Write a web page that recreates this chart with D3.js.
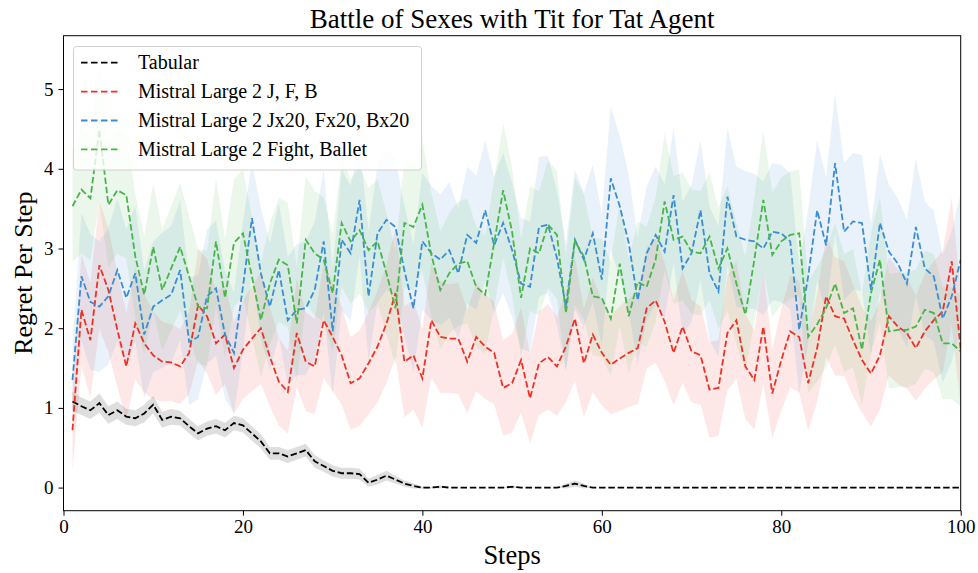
<!DOCTYPE html>
<html><head><meta charset="utf-8">
<script src="https://cdn.jsdelivr.net/npm/d3@7"></script>
<style>body{margin:0;background:#fff}svg text{font-family:"Liberation Serif","Times New Roman",serif}</style>
</head><body><svg id="c" width="978" height="573"></svg>
<script>
const steps = d3.range(1, 101);
const xTicks = [0, 20, 40, 60, 80, 100];
const yTicks = [0, 1, 2, 3, 4, 5];
const seriesNames = ["Tabular", "Mistral Large 2 J, F, B", "Mistral Large 2 Jx20, Fx20, Bx20", "Mistral Large 2 Fight, Ballet"];

const tabular = [1.08,1.02,0.97,1.06,0.91,0.97,0.89,0.87,0.93,1.04,
0.85,0.89,0.87,0.77,0.68,0.74,0.77,0.72,0.81,0.78,
0.68,0.58,0.43,0.43,0.39,0.43,0.47,0.33,0.27,0.21,
0.18,0.18,0.17,0.06,0.10,0.15,0.10,0.05,0.02,0.0,
0.0,0.01,0,0,0,0,0,0,0,0.01,
0,0,0,0,0,0.02,0.05,0.02,0,0,
0,0,0,0,0,0,0,0,0,0,
0,0,0,0,0,0,0,0,0,0,
0,0,0,0,0,0,0,0,0,0,
0,0,0,0,0,0,0,0,0,0];
const tabularErr = [0.12,0.11,0.11,0.12,0.11,0.11,0.10,0.10,0.11,0.11,
0.10,0.10,0.09,0.09,0.09,0.09,0.09,0.09,0.09,0.09,
0.09,0.09,0.08,0.08,0.08,0.08,0.08,0.08,0.07,0.07,
0.07,0.07,0.07,0.05,0.06,0.06,0.05,0.04,0.03,0.01,
0.01,0.02,0,0,0,0,0,0,0,0.02,
0,0,0,0,0,0.03,0.04,0.03,0,0,
0,0,0,0,0,0,0,0,0,0,
0,0,0,0,0,0,0,0,0,0,
0,0,0,0,0,0,0,0,0,0,
0,0,0,0,0,0,0,0,0,0];

const redMean = [0.72,2.23,1.85,2.79,2.48,1.98,1.52,2.06,1.81,1.66,
1.58,1.57,1.52,1.69,2.29,2.15,1.81,1.92,1.50,1.73,
1.87,2.00,1.64,1.33,1.20,1.94,1.58,1.52,2.10,1.89,
1.66,1.31,1.37,1.56,1.77,2.06,2.44,1.58,1.66,1.37,
2.10,1.89,1.87,1.87,1.58,1.89,1.77,1.69,1.25,1.31,
1.60,1.12,1.56,1.64,1.52,1.77,2.12,1.56,1.92,1.69,
1.54,1.62,1.69,1.75,2.25,2.35,2.08,1.69,2.02,1.71,
1.66,1.23,1.25,1.94,2.10,1.52,1.35,2.02,1.18,1.60,
1.96,1.89,1.31,1.75,2.40,2.15,2.12,1.85,1.60,1.43,
1.66,2.15,2.02,1.94,1.75,1.96,2.10,2.21,2.84,1.73];
const redErr = [0.52,0.70,0.72,0.80,0.78,0.72,0.67,0.70,0.62,0.55,
0.50,0.48,0.47,0.52,0.70,0.72,0.65,0.62,0.58,0.62,
0.66,0.70,0.62,0.55,0.52,0.68,0.62,0.60,0.72,0.68,
0.62,0.58,0.60,0.64,0.70,0.75,0.80,0.70,0.68,0.62,
0.72,0.70,0.68,0.70,0.65,0.68,0.66,0.64,0.60,0.62,
0.66,0.56,0.65,0.66,0.62,0.70,0.78,0.68,0.72,0.66,
0.62,0.66,0.68,0.70,0.76,0.78,0.74,0.66,0.70,0.64,
0.62,0.60,0.60,0.72,0.74,0.66,0.62,0.72,0.56,0.64,
0.70,0.70,0.60,0.68,0.76,0.74,0.72,0.70,0.66,0.66,
0.68,0.74,0.72,0.70,0.66,0.72,0.74,0.76,0.80,0.70];

const blueMean = [1.35,2.65,2.33,2.27,2.40,2.73,2.38,2.69,1.92,2.27,
2.35,2.42,2.73,1.83,1.89,2.40,2.50,1.92,1.69,2.52,
3.38,2.69,2.27,2.73,2.10,2.23,2.25,2.48,3.09,1.96,
3.11,2.94,3.61,2.40,3.19,3.36,3.27,2.72,2.25,3.09,
2.94,2.86,2.98,2.69,3.17,3.07,3.48,3.04,3.32,2.98,
2.56,2.52,3.27,3.30,2.88,2.27,3.11,2.86,3.19,2.61,
3.88,3.53,3.07,2.35,2.94,3.17,2.96,3.67,2.75,2.94,
3.48,2.69,2.46,3.65,3.15,3.11,3.09,3.00,3.21,3.19,
3.09,1.98,2.65,3.48,3.04,4.07,3.21,3.34,3.32,2.48,
3.32,2.96,2.81,2.56,3.27,2.75,2.65,2.12,2.40,2.86];
const blueErr = [0.45,0.80,0.85,0.82,0.85,0.90,0.86,0.85,0.80,0.82,
0.85,0.86,0.88,0.80,0.78,0.84,0.85,0.80,0.76,0.82,
0.70,0.82,0.80,0.84,0.80,0.82,0.84,0.86,0.90,0.80,
0.88,0.85,0.70,0.82,0.86,0.88,0.85,0.82,0.80,0.86,
0.84,0.82,0.85,0.82,0.86,0.84,0.88,0.86,0.88,0.84,
0.82,0.82,0.88,0.86,0.84,0.80,0.88,0.84,0.86,0.82,
0.90,0.88,0.85,0.80,0.84,0.86,0.84,0.84,0.84,0.86,
0.88,0.84,0.82,0.86,0.88,0.86,0.85,0.84,0.86,0.86,
0.85,0.80,0.84,0.88,0.86,0.88,0.86,0.86,0.85,0.82,
0.86,0.84,0.82,0.80,0.86,0.84,0.82,0.80,0.82,0.84];

const greenMean = [3.53,3.74,3.63,4.49,3.55,3.73,3.67,2.90,2.42,3.02,
2.48,2.75,3.02,2.65,2.27,2.25,3.09,2.38,3.07,3.19,
2.65,2.10,2.56,2.86,2.79,2.06,3.11,2.94,2.86,2.44,
3.32,3.09,3.23,2.98,3.09,2.69,2.25,3.32,3.27,3.55,
2.92,2.48,2.69,2.81,2.84,2.52,2.42,3.07,3.73,3.21,
2.38,3.00,2.94,3.30,3.17,2.19,3.09,2.90,2.40,2.38,
2.12,2.81,2.15,2.58,2.52,2.86,3.59,3.11,3.15,2.96,
2.94,3.15,2.75,3.00,2.56,2.17,2.86,3.61,2.92,3.09,
3.17,3.19,1.89,2.05,2.25,2.56,2.19,2.25,1.73,2.44,
2.86,1.96,1.98,1.98,2.02,2.23,2.19,1.81,1.81,1.71];
const greenErr = [0.70,0.80,0.78,0.90,0.78,0.80,0.80,0.78,0.74,0.80,
0.76,0.78,0.80,0.76,0.72,0.72,0.80,0.74,0.80,0.80,
0.76,0.72,0.76,0.78,0.78,0.72,0.80,0.78,0.78,0.74,
0.80,0.78,0.80,0.78,0.78,0.76,0.72,0.80,0.80,0.82,
0.78,0.74,0.76,0.78,0.78,0.76,0.74,0.80,0.84,0.80,
0.74,0.78,0.78,0.80,0.80,0.72,0.80,0.78,0.74,0.74,
0.72,0.78,0.72,0.76,0.76,0.78,0.86,0.80,0.80,0.78,
0.78,0.80,0.76,0.78,0.76,0.72,0.78,0.88,0.78,0.80,
0.80,0.80,0.70,0.72,0.74,0.76,0.74,0.74,0.70,0.76,
0.79,0.72,0.72,0.72,0.72,0.74,0.74,0.70,0.70,0.69];

const colors = ["#000000", "#ee3124", "#3a8dd4", "#47b548"];
const means = [tabular, redMean, blueMean, greenMean];
const errs = [tabularErr, redErr, blueErr, greenErr];

const svg = d3.select("#c");
const L = 63.5, R = 960.7, T = 35.7, B = 510.7;
const x = d3.scaleLinear().domain([0, 100]).range([L, R]);
const y = d3.scaleLinear().domain([-0.29, 5.67]).range([B, T]);

svg.append("defs").append("clipPath").attr("id", "pc")
  .append("rect").attr("x", L).attr("y", T).attr("width", R - L).attr("height", B - T);
const plot = svg.append("g").attr("clip-path", "url(#pc)");

means.forEach((m, i) => {
  const area = d3.area().x((d, j) => x(steps[j])).y0((d, j) => y(m[j] - errs[i][j])).y1((d, j) => y(m[j] + errs[i][j]));
  plot.append("path").attr("d", area(m)).attr("fill", colors[i])
    .attr("fill-opacity", i === 0 ? 0.13 : 0.11).attr("stroke", "none");
});
means.forEach((m, i) => {
  const line = d3.line().x((d, j) => x(steps[j])).y(d => y(d));
  plot.append("path").attr("d", line(m)).attr("fill", "none").attr("stroke", colors[i])
    .attr("stroke-width", 1.8).attr("stroke-dasharray", "6.5,2.8");
});

const xAxis = svg.append("g").attr("transform", `translate(0,${B})`)
  .call(d3.axisBottom(x).tickValues(xTicks).tickFormat(d3.format("d")).tickSize(5).tickSizeOuter(0).tickPadding(4));
const yAxis = svg.append("g").attr("transform", `translate(${L},0)`)
  .call(d3.axisLeft(y).tickValues(yTicks).tickFormat(d3.format("d")).tickSize(5).tickSizeOuter(0).tickPadding(5));
[xAxis, yAxis].forEach(a => {
  a.select(".domain").remove();
  a.selectAll("text").attr("font-size", 19).attr("fill", "#000").attr("font-family", '"Liberation Serif",serif');
  a.selectAll("line").attr("stroke", "#000").attr("stroke-width", 1);
});
svg.append("rect").attr("x", L).attr("y", T).attr("width", R - L).attr("height", B - T)
  .attr("fill", "none").attr("stroke", "#000").attr("stroke-width", 1);

svg.append("text").attr("x", (L + R) / 2).attr("y", 28).attr("text-anchor", "middle")
  .attr("font-size", 27).text("Battle of Sexes with Tit for Tat Agent");
svg.append("text").attr("x", (L + R) / 2).attr("y", 564).attr("text-anchor", "middle")
  .attr("font-size", 26.5).text("Steps");
svg.append("text").attr("transform", `translate(32,${(T + B) / 2}) rotate(-90)`).attr("text-anchor", "middle")
  .attr("font-size", 26).text("Regret Per Step");

const lg = svg.append("g");
lg.append("rect").attr("x", 73.5).attr("y", 46.5).attr("width", 348).attr("height", 123.5)
  .attr("rx", 3).attr("fill", "#fff").attr("fill-opacity", 0.8).attr("stroke", "#d0d0d0");
const rowY = [62.7, 91.7, 120.5, 149.3];
seriesNames.forEach((n, i) => {
  lg.append("line").attr("x1", 81).attr("x2", 120).attr("y1", rowY[i]).attr("y2", rowY[i])
    .attr("stroke", colors[i]).attr("stroke-width", 1.8).attr("stroke-dasharray", "6.5,3.5");
  lg.append("text").attr("x", 138).attr("y", rowY[i] + 6.5).attr("font-size", 20).text(n);
});
</script></body></html>
